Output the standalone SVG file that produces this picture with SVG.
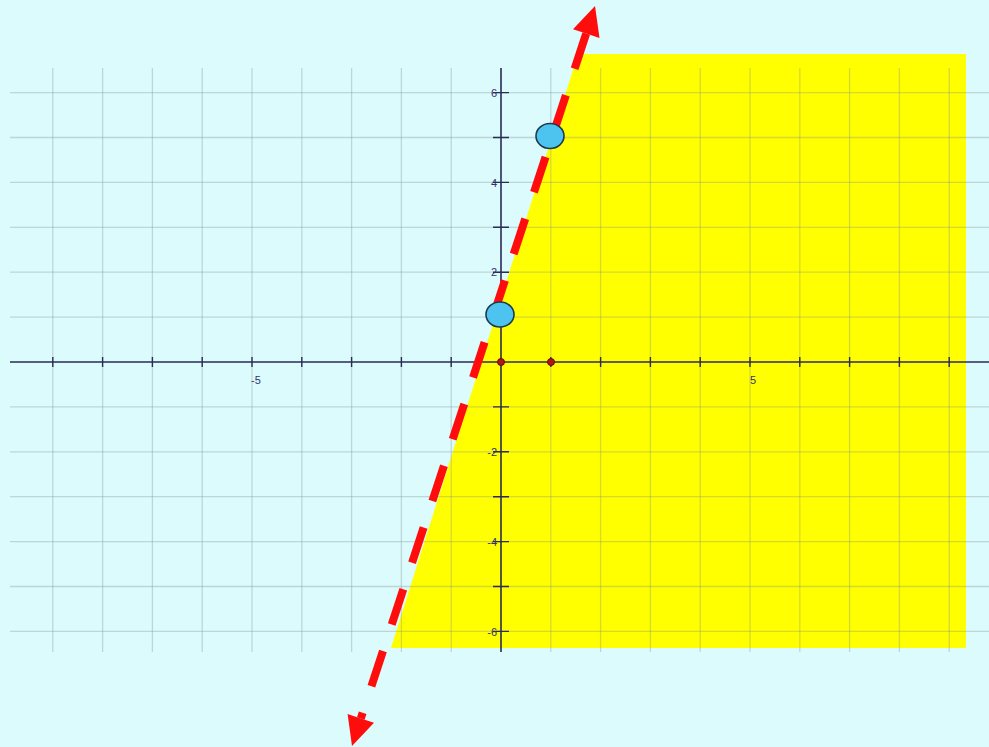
<svg xmlns="http://www.w3.org/2000/svg" width="989" height="747" viewBox="0 0 989 747">
<style>
.grid line{stroke:#7f8f90;stroke-opacity:0.33;stroke-width:1.3}
.axis{stroke:#2b2b55;stroke-width:1.6;fill:none}
.tick{stroke:#2b2b55;stroke-width:1.4}
.lbl{font-family:"Liberation Sans",Arial,sans-serif;font-size:11px;fill:#34346a}
.pt{fill:#4dc4ef;stroke:#1d3b4c;stroke-width:1.6}
.dot{fill:#b01818;stroke:#6a0808;stroke-width:1}
</style>
<rect id="background" x="0" y="0" width="989" height="747" fill="#dcfbfd"/>
<g id="region"><polygon points="578,54 966,54 966,648 391,648" fill="#ffff00"/></g>
<g id="grid" class="grid">
<line x1="52.8" y1="68" x2="52.8" y2="652"/>
<line x1="102.6" y1="68" x2="102.6" y2="652"/>
<line x1="152.4" y1="68" x2="152.4" y2="652"/>
<line x1="202.2" y1="68" x2="202.2" y2="652"/>
<line x1="252" y1="68" x2="252" y2="652"/>
<line x1="301.8" y1="68" x2="301.8" y2="652"/>
<line x1="351.6" y1="68" x2="351.6" y2="652"/>
<line x1="401.4" y1="68" x2="401.4" y2="652"/>
<line x1="451.2" y1="68" x2="451.2" y2="652"/>
<line x1="550.8" y1="68" x2="550.8" y2="652"/>
<line x1="600.6" y1="68" x2="600.6" y2="652"/>
<line x1="650.4" y1="68" x2="650.4" y2="652"/>
<line x1="700.2" y1="68" x2="700.2" y2="652"/>
<line x1="750" y1="68" x2="750" y2="652"/>
<line x1="799.8" y1="68" x2="799.8" y2="652"/>
<line x1="849.6" y1="68" x2="849.6" y2="652"/>
<line x1="899.4" y1="68" x2="899.4" y2="652"/>
<line x1="949.2" y1="68" x2="949.2" y2="652"/>
<line x1="10" y1="92.6" x2="989" y2="92.6"/>
<line x1="10" y1="137.5" x2="989" y2="137.5"/>
<line x1="10" y1="182.4" x2="989" y2="182.4"/>
<line x1="10" y1="227.3" x2="989" y2="227.3"/>
<line x1="10" y1="272.2" x2="989" y2="272.2"/>
<line x1="10" y1="317.1" x2="989" y2="317.1"/>
<line x1="10" y1="406.9" x2="989" y2="406.9"/>
<line x1="10" y1="451.8" x2="989" y2="451.8"/>
<line x1="10" y1="496.7" x2="989" y2="496.7"/>
<line x1="10" y1="541.6" x2="989" y2="541.6"/>
<line x1="10" y1="586.5" x2="989" y2="586.5"/>
<line x1="10" y1="631.4" x2="989" y2="631.4"/>
</g>
<g id="axes">
<line class="axis" x1="10" y1="362" x2="989" y2="362"/>
<line class="axis" x1="501" y1="68" x2="501" y2="652"/>
<path class="tick" d="M52.8 357V367M102.6 357V367M152.4 357V367M202.2 357V367M252 357V367M301.8 357V367M351.6 357V367M401.4 357V367M451.2 357V367M550.8 357V367M600.6 357V367M650.4 357V367M700.2 357V367M750 357V367M799.8 357V367M849.6 357V367M899.4 357V367M949.2 357V367"/>
<path class="tick" d="M493 92.6H509M493 137.5H509M493 182.4H509M493 227.3H509M493 272.2H509M493 317.1H509M493 406.9H509M493 451.8H509M493 496.7H509M493 541.6H509M493 586.5H509M493 631.4H509"/>
<text class="lbl" x="256" y="384" text-anchor="middle">-5</text>
<text class="lbl" x="753" y="384" text-anchor="middle">5</text>
<text class="lbl" x="497" y="96.5" text-anchor="end">6</text>
<text class="lbl" x="497" y="186.5" text-anchor="end">4</text>
<text class="lbl" x="497" y="276" text-anchor="end">2</text>
<text class="lbl" x="497" y="456" text-anchor="end">-2</text>
<text class="lbl" x="497" y="545.5" text-anchor="end">-4</text>
<text class="lbl" x="497" y="635.5" text-anchor="end">-6</text>
</g>
<g id="connectors">
<path d="M586.2 33.6L360.8 718.4" stroke="#ff0d0d" stroke-width="8" stroke-dasharray="37 28" fill="none"/>
<polygon points="595,6 599.5,38 586.2,33.6 573,29.2" fill="#ff0d0d"/>
<polygon points="352,746 374,722.8 360.8,718.4 347.6,714" fill="#ff0d0d"/>
</g>
<g id="point-a"><ellipse class="pt" cx="500" cy="314.5" rx="14" ry="12.5"/></g>
<g id="point-b"><ellipse class="pt" cx="550" cy="136" rx="14" ry="12.5"/></g>
<g id="origin-dot"><circle class="dot" cx="501" cy="362" r="3.5"/></g>
<g id="unit-dot"><circle class="dot" cx="551" cy="362" r="3.5"/></g>
</svg>
